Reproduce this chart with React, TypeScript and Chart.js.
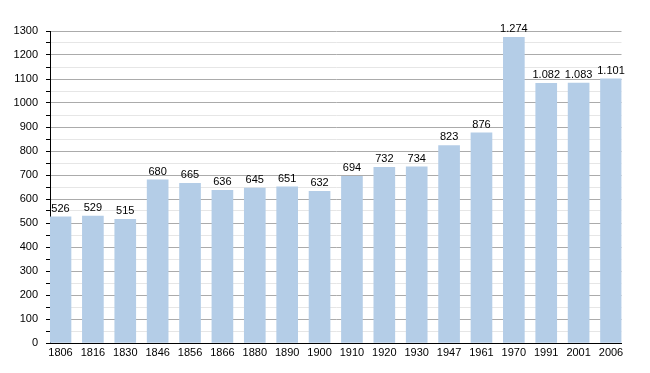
import React, { useEffect, useRef } from "react";
import { Chart, registerables } from "chart.js";

Chart.register(...registerables);

const labels = ["1806","1816","1830","1846","1856","1866","1880","1890","1900","1910","1920","1930","1947","1961","1970","1991","2001","2006"];
const values = [526,529,515,680,665,636,645,651,632,694,732,734,823,876,1274,1082,1083,1101];
const yMax = 1300;
const yStep = 50;
const yLabelStep = 100;

const FONT = "'Liberation Sans', Arial, sans-serif";

function fmt(v: number): string {
  const s = String(v);
  return s.length > 3 ? s.slice(0, s.length - 3) + "." + s.slice(-3) : s;
}

const valueLabels = {
  id: "valueLabels",
  afterDatasetsDraw(chart: any) {
    const ctx = chart.ctx;
    const meta = chart.getDatasetMeta(0);
    ctx.save();
    ctx.font = `11px ${FONT}`;
    ctx.fillStyle = "#000";
    ctx.textAlign = "center";
    ctx.textBaseline = "alphabetic";
    meta.data.forEach((bar: any, i: number) => {
      ctx.fillText(fmt(values[i]), bar.x, bar.y - 5);
    });
    ctx.restore();
  },
};

export default function App() {
  const ref = useRef<HTMLCanvasElement | null>(null);
  useEffect(() => {
    if (!ref.current) return;
    const chart = new Chart(ref.current, {
      type: "bar",
      data: {
        datasets: [
          {
            data: values.map((v, i) => ({ x: i, y: v })),
            backgroundColor: "#b4cde7",
            borderWidth: 0,
            barThickness: 21,
          },
        ],
      },
      options: {
        animation: false,
        responsive: false,
        layout: { padding: { top: 31, right: 28.5, left: 0, bottom: 0 } },
        plugins: { legend: { display: false }, tooltip: { enabled: false } },
        scales: {
          x: {
            type: "linear",
            offset: false,
            min: -0.3243,
            max: labels.length - 1 + 0.3243,
            afterFit(scale: any) { scale.height = 30; },
            afterBuildTicks(scale: any) { scale.ticks = labels.map((_, i) => ({ value: i })); },
            grid: { display: false, drawTicks: false, tickLength: 0 },
            border: { display: true, color: "#000", width: 1 },
            ticks: {
              autoSkip: false,
              maxRotation: 0,
              padding: 3,
              color: "#000",
              font: { family: FONT, size: 11 },
              callback: (v: any) => labels[Math.round(Number(v))] ?? "",
            },
          },
          y: {
            min: 0,
            max: yMax,
            afterFit(scale: any) { scale.width = 50; },
            border: { display: true, color: "#000", width: 1 },
            grid: {
              color: (c: any) => (c.tick && c.tick.value % yLabelStep === 0 ? "#ababab" : "#e6e6e6"),
              tickColor: "#000",
              tickLength: 4,
            },
            ticks: {
              stepSize: yStep,
              autoSkip: false,
              padding: 8,
              color: "#000",
              font: { family: FONT, size: 11 },
              callback: (v: any) => (Number(v) % yLabelStep === 0 ? String(v) : ""),
            },
          },
        },
      },
      plugins: [valueLabels],
    });
    return () => chart.destroy();
  }, []);
  return (
    <div style={{ position: "absolute", left: 0, top: 0, width: 650, height: 373, background: "#fff" }}>
      <canvas ref={ref} width={650} height={373} />
    </div>
  );
}
